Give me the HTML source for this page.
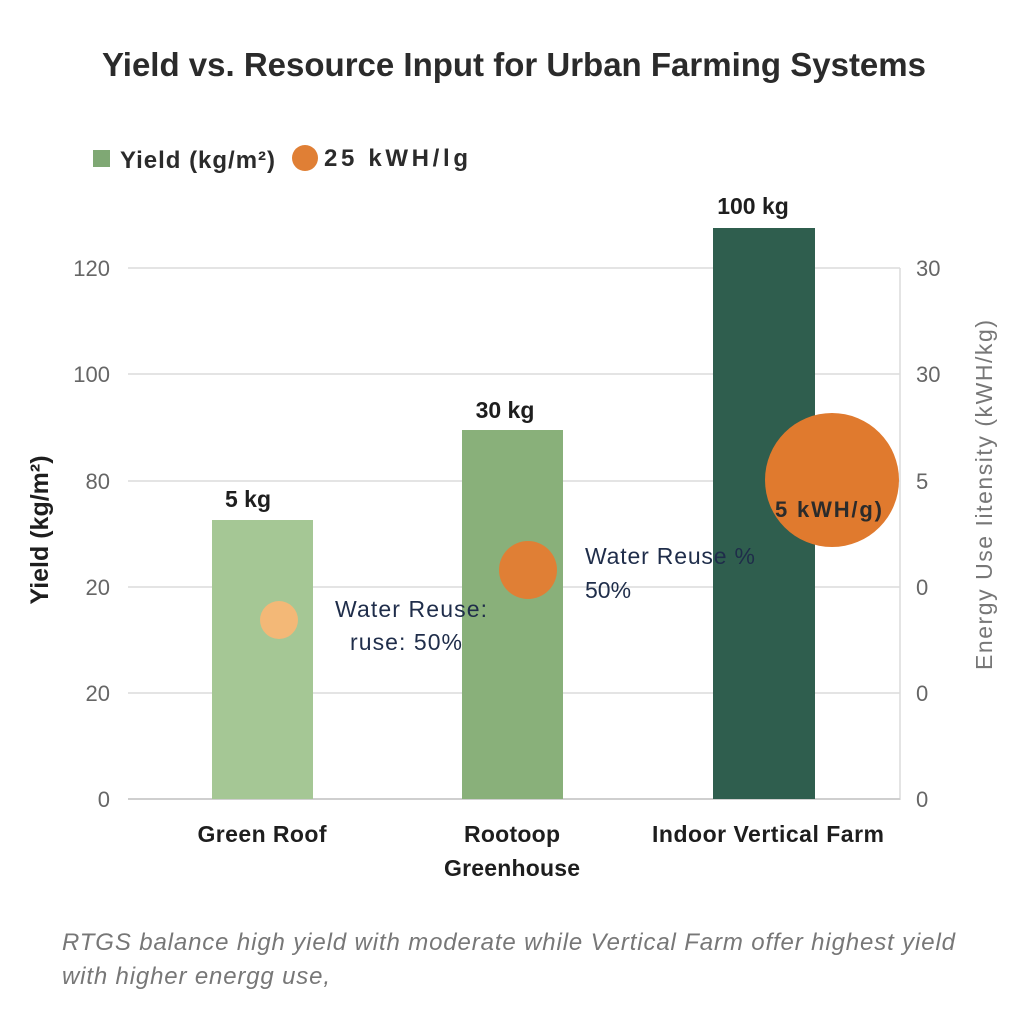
<!DOCTYPE html>
<html><head><meta charset="utf-8"><style>
body{margin:0;width:1024px;height:1024px;background:#fff;overflow:hidden;font-family:"Liberation Sans",sans-serif}
</style></head><body>
<svg width="1024" height="1024" xmlns="http://www.w3.org/2000/svg" font-family="Liberation Sans, sans-serif">
<text x="514" y="76" text-anchor="middle" font-size="33" font-weight="bold" fill="#2b2b2b">Yield vs. Resource Input for Urban Farming Systems</text>
<rect x="93" y="150" width="17" height="17" fill="#7fa874"/>
<text x="120" y="168" font-size="24" font-weight="bold" fill="#2b2b2b" textLength="155">Yield (kg/m²)</text>
<circle cx="305" cy="158" r="13" fill="#e07f35"/>
<text x="324" y="166" font-size="24" font-weight="bold" fill="#2b2b2b" textLength="144">25 kWH/lg</text>
<g stroke="#dcdcdc" stroke-width="1.5">
<line x1="128" y1="268" x2="900" y2="268"/><line x1="128" y1="374" x2="900" y2="374"/>
<line x1="128" y1="481" x2="900" y2="481"/><line x1="128" y1="587" x2="900" y2="587"/>
<line x1="128" y1="693" x2="900" y2="693"/><line x1="900" y1="268" x2="900" y2="800"/>
</g>
<line x1="128" y1="799" x2="900" y2="799" stroke="#cfcfcf" stroke-width="2"/>
<g font-size="22" fill="#666" text-anchor="end">
<text x="110" y="276">120</text><text x="110" y="382">100</text><text x="110" y="489">80</text>
<text x="110" y="595">20</text><text x="110" y="701">20</text><text x="110" y="807">0</text>
</g>
<g font-size="22" fill="#666">
<text x="916" y="276">30</text><text x="916" y="382">30</text><text x="916" y="489">5</text>
<text x="916" y="595">0</text><text x="916" y="701">0</text><text x="916" y="807">0</text>
</g>
<rect x="212" y="520" width="101" height="279" fill="#a5c795"/>
<rect x="462" y="430" width="101" height="369" fill="#89b07a"/>
<rect x="713" y="228" width="102" height="571" fill="#2f5e4e"/>
<g font-size="23" font-weight="bold" fill="#1e1e1e" text-anchor="middle">
<text x="248" y="507">5 kg</text><text x="505" y="418">30 kg</text><text x="753" y="214">100 kg</text>
</g>
<circle cx="279" cy="620" r="19" fill="#f3b877"/>
<circle cx="528" cy="570" r="29" fill="#e07f35"/>
<circle cx="832" cy="480" r="67" fill="#e07a2e"/>
<g font-size="23" fill="#1f2d4a">
<text x="335" y="617" textLength="152">Water Reuse:</text><text x="350" y="650" textLength="112">ruse: 50%</text>
<text x="585" y="564" textLength="170">Water Reuse %</text><text x="585" y="598">50%</text>
</g>
<text x="775" y="517" font-size="22" font-weight="bold" fill="#2b2b2b" textLength="107">5 kWH/g)</text>
<text transform="translate(48,530) rotate(-90)" text-anchor="middle" font-size="25" font-weight="bold" fill="#1e1e1e">Yield (kg/m²)</text>
<text transform="translate(992,495) rotate(-90)" text-anchor="middle" font-size="23" fill="#777" textLength="350">Energy Use Iitensity (kWH/kg)</text>
<g font-size="23" fill="#1e1e1e" text-anchor="middle" font-weight="bold">
<text x="262" y="842" textLength="129">Green Roof</text><text x="512" y="842" textLength="96">Rootoop</text><text x="512" y="876" textLength="136">Greenhouse</text>
<text x="768" y="842" textLength="232">Indoor Vertical Farm</text>
</g>
<g font-size="24" font-style="italic" fill="#777">
<text x="62" y="950" textLength="893">RTGS balance high yield with moderate while Vertical Farm offer highest yield</text>
<text x="62" y="984" textLength="268">with higher energg use,</text>
</g>
</svg>
</body></html>
